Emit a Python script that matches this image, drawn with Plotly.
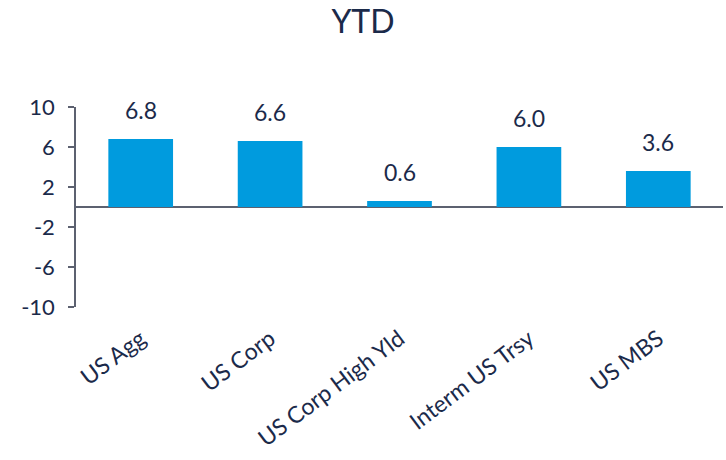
import plotly.graph_objects as go

# YTD returns by fixed-income sector (%)
categories = ["US Agg", "US Corp", "US Corp High Yld", "Interm US Trsy", "US MBS"]
ytd_values = [6.8, 6.6, 0.6, 6.0, 3.6]
y_ticks = [10, 6, 2, -2, -6, -10]

navy = "#1b2a4a"
axis_grey = "#5c6170"
bar_blue = "#009bde"
font_family = "Lato, 'Open Sans', sans-serif"

fig = go.Figure(
    go.Bar(
        x=categories,
        y=ytd_values,
        marker=dict(color=bar_blue, line=dict(width=0)),
        hoverinfo="skip",
    )
)

# value labels sitting above each bar
for cat, val in zip(categories, ytd_values):
    fig.add_annotation(
        x=cat, y=val, text=f"{val:.1f}", showarrow=False,
        yanchor="bottom", yshift=13,
        font=dict(family=font_family, size=23, color=navy),
    )

fig.update_layout(
    width=726, height=460,
    margin=dict(l=76, r=3, t=107, b=153),
    paper_bgcolor="white", plot_bgcolor="white",
    bargap=0.5,
    showlegend=False,
    title=dict(
        text="YTD", x=0.5, xref="container", xanchor="center",
        y=0.952, yanchor="middle",
        font=dict(family=font_family, size=32, color=navy),
    ),
    font=dict(family=font_family, color=navy),
)

fig.update_xaxes(
    showgrid=False, showline=False, zeroline=False, ticks="",
    tickangle=-37, tickfont=dict(size=23, color=navy),
    ticklabelstandoff=13,
)
fig.update_yaxes(
    range=[-10, 10], tickvals=y_ticks, ticktext=[str(t) for t in y_ticks],
    showgrid=False, showline=True, linecolor=axis_grey, linewidth=1.5,
    ticks="outside", ticklen=6, tickcolor=axis_grey, tickwidth=1.5,
    zeroline=True, zerolinecolor=axis_grey, zerolinewidth=1.5,
    tickfont=dict(size=22, color=navy),
    ticklabelstandoff=9,
)

fig.write_html("out.html")
